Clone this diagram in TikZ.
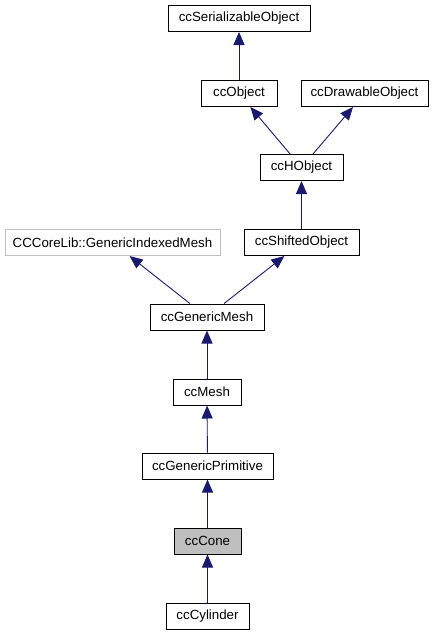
\documentclass[tikz,border=0pt]{standalone}
\usepackage{fontspec}
\setmainfont{Liberation Sans}
\usetikzlibrary{arrows.meta}
\definecolor{edgeblue}{HTML}{191970}
\definecolor{extgray}{HTML}{BFBFBF}
\definecolor{curfill}{HTML}{BFBFBF}
\tikzset{
  cls/.style={draw=black, line width=1pt, fill=white, minimum height=26pt,
    inner sep=0pt, font=\fontsize{13.3}{15}\selectfont},
  extcls/.style={cls, draw=extgray},
  curcls/.style={cls, fill=curfill},
  inherit/.style={draw=edgeblue, line width=0.9pt,
    -{Triangle[length=13pt,width=11pt]}, edgeblue}
}
\begin{document}
\begin{tikzpicture}[x=1pt,y=-1pt]
  \useasboundingbox (0,0) rectangle (433,635);
  {

  % Drawing the classes, row by row
  \node [cls, minimum width=142pt] (serobj) at (239,18.5) {ccSerializableObject};%

  \node [cls, minimum width=76pt] (obj) at (239,93.5) {ccObject};%
  \node [cls, minimum width=127pt] (drawobj) at (364.5,93.5) {ccDrawableObject};%

  \node [cls, minimum width=83pt] (hobj) at (301.5,167.5) {ccHObject};%

  \node [extcls, minimum width=215pt] (gimesh) at (112.5,242.5) {CCCoreLib::GenericIndexedMesh};%
  \node [cls, minimum width=115pt] (shiftobj) at (301.5,242.5) {ccShiftedObject};%

  \node [cls, minimum width=114pt] (genmesh) at (207,317) {ccGenericMesh};%

  \node [cls, minimum width=68pt] (mesh) at (207,392) {ccMesh};%

  \node [cls, minimum width=131pt] (genprim) at (207.5,466) {ccGenericPrimitive};%

  \node [curcls, minimum width=67pt] (cone) at (207.5,541) {ccCone};%

  \node [cls, minimum width=83pt] (cyl) at (207.5,616) {ccCylinder};%

  % Drawing inheritance arrows, child to parent
  \draw [inherit] (obj) -- (serobj);%
  \draw [inherit] (hobj) -- (obj);%
  \draw [inherit] (hobj) -- (drawobj);%
  \draw [inherit] (shiftobj) -- (hobj);%
  \draw [inherit] (genmesh) -- (gimesh);%
  \draw [inherit] (genmesh) -- (shiftobj);%
  \draw [inherit] (mesh) -- (genmesh);%
  \draw [inherit] (genprim) -- (mesh);%
  \draw [inherit] (cone) -- (genprim);%
  \draw [inherit] (cyl) -- (cone);%
  }
\end{tikzpicture}
\end{document}
